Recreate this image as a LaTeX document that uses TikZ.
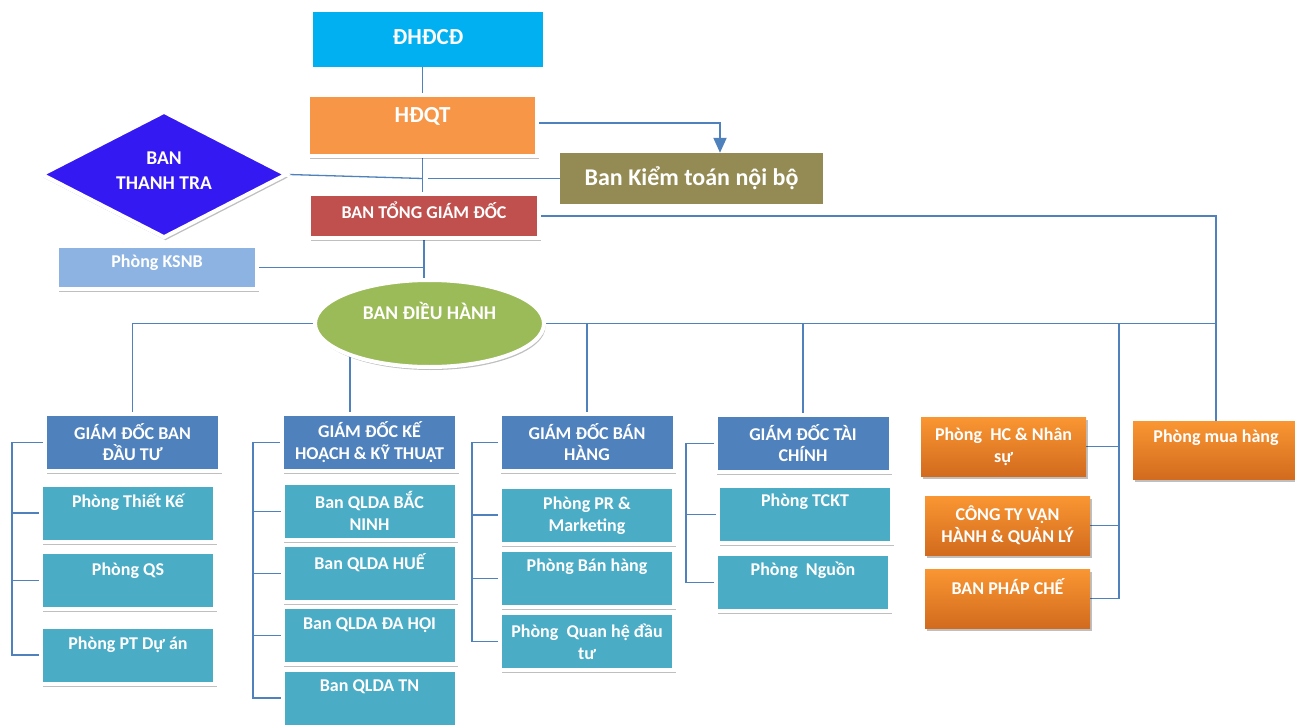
\documentclass[tikz,border=0pt]{standalone}
\usepackage{fontspec}
\setmainfont{Carlito}
\usetikzlibrary{shapes.geometric,shadows,backgrounds,arrows.meta,calc}
\definecolor{cCyan}{HTML}{00B0F0}
\definecolor{cHD}{HTML}{F79646}
\definecolor{cKT}{HTML}{948A54}
\definecolor{cTG}{HTML}{C0504D}
\definecolor{cTT}{HTML}{3519F2}
\definecolor{cKS}{HTML}{8DB3E2}
\definecolor{cEL}{HTML}{9BBB59}
\definecolor{cGD}{HTML}{4F81BD}
\definecolor{cP}{HTML}{4BACC6}
\definecolor{cOrT}{HTML}{FA9632}
\definecolor{cOrB}{HTML}{D26B1E}
\definecolor{cLine}{HTML}{4F81BD}
\begin{document}
\begin{tikzpicture}[x=1pt,y=-1pt,
  ln/.style={draw=cLine, line width=1.3pt},
  shd/.style={drop shadow={shadow xshift=1.5pt, shadow yshift=-3pt, fill=black, opacity=0.25}},
  bx/.style={rectangle, draw=white, line width=4pt, inner sep=0pt, shd},
  gd/.style={bx, fill=cGD, minimum width=175pt, minimum height=57pt},
  pb/.style={bx, fill=cP, minimum width=174pt, minimum height=57pt},
  ob/.style={rectangle, inner sep=0pt, top color=cOrT, bottom color=cOrB, minimum width=165pt, minimum height=59pt, shd},
  txt/.style={text=white, font=\bfseries\fontsize{18}{21.7}\selectfont, align=center, inner sep=0pt},
  mid/.style={txt, font=\bfseries\fontsize{19.5}{24}\selectfont},
  big/.style={txt, font=\bfseries\fontsize{23}{27}\selectfont}]
\begin{scope}[on background layer]
\fill[white] (0,0) rectangle (1295,725);
\end{scope}
\useasboundingbox (0,0) rectangle (1295,725);

% top part
\node[rectangle, fill=cCyan, minimum width=230pt, minimum height=55pt, inner sep=0pt] (dhcd) at (428,39.5) {};
\node[big] (tdhcd) at (428,37) {ĐHĐCĐ};
\node[bx, fill=cHD, minimum width=229pt, minimum height=61pt] (hdqt) at (422.5,125.5) {};
\node[big] (thdqt) at (422.5,116) {HĐQT};
\node[rectangle, fill=cKT, minimum width=263pt, minimum height=51pt, inner sep=0pt] (kt) at (691.5,178.5) {};
\node[big, font=\bfseries\fontsize{24}{28}\selectfont] (tkt) at (691.5,178) {Ban Kiểm toán nội bộ};
\node[bx, fill=cTG, minimum width=230pt, minimum height=44pt] (tgd) at (424,216) {};
\node[txt] (ttgd) at (424,210) {BAN TỔNG GIÁM ĐỐC};
\node[diamond, draw=white, line width=4pt, fill=cTT, minimum width=246pt, minimum height=127pt, inner sep=0pt, shd] (tt) at (164,174.5) {};
\node[mid] (ttt) at (164,171) {BAN\\[1pt]THANH TRA};
\node[bx, fill=cKS, minimum width=200pt, minimum height=43pt] (ks) at (157,267.5) {};
\node[txt] (tks) at (157,263) {Phòng KSNB};
\node[ellipse, draw=white, line width=4pt, fill=cEL, minimum width=229pt, minimum height=87pt, inner sep=0pt, shd] (el) at (429.5,323.5) {};
\node[mid] (tel) at (429.5,311) {BAN ĐIỀU HÀNH};

% column 1
\node[gd] (gd1) at (132.5,442.5) {};
\node[txt] (tgd1) at (132.5,442) {GIÁM ĐỐC BAN\\ĐẦU TƯ};
\node[pb] (p11) at (128,513) {};
\node[txt] (tp11) at (128,502) {Phòng Thiết Kế};
\node[pb] (p12) at (128,580.5) {};
\node[txt] (tp12) at (128,571) {Phòng QS};
\node[pb] (p13) at (128,655) {};
\node[txt] (tp13) at (128,645) {Phòng PT Dự án};

% column 2
\node[gd] (gd2) at (369.5,442.5) {};
\node[txt] (tgd2) at (369.5,442) {GIÁM ĐỐC KẾ\\HOẠCH \& KỸ THUẬT};
\node[pb] (p21) at (369.5,511.5) {};
\node[txt] (tp21) at (369.5,511) {Ban QLDA BẮC\\NINH};
\node[pb] (p22) at (369.5,573.5) {};
\node[txt] (tp22) at (369.5,563) {Ban QLDA HUẾ};
\node[pb] (p23) at (369.5,635.5) {};
\node[txt] (tp23) at (369.5,625) {Ban QLDA ĐA HỘI};
\node[pb] (p24) at (369.5,698) {};
\node[txt] (tp24) at (369.5,687) {Ban QLDA TN};

% column 3
\node[gd] (gd3) at (587,442.5) {};
\node[txt] (tgd3) at (587,442) {GIÁM ĐỐC BÁN\\HÀNG};
\node[pb] (p31) at (587,515) {};
\node[txt] (tp31) at (587,516) {Phòng PR \&\\Marketing};
\node[pb] (p32) at (587,578.5) {};
\node[txt] (tp32) at (587,567) {Phòng Bán hàng};
\node[pb] (p33) at (587,641.5) {};
\node[txt] (tp33) at (587,642) {Phòng~ Quan hệ đầu\\tư};

% column 4
\node[gd] (gd4) at (803,443.5) {};
\node[txt] (tgd4) at (803,443) {GIÁM ĐỐC TÀI\\CHÍNH};
\node[pb] (p41) at (805,514.5) {};
\node[txt] (tp41) at (805,502) {Phòng TCKT};
\node[pb] (p42) at (803,582.5) {};
\node[txt] (tp42) at (803,570) {Phòng~ Nguồn};

% orange boxes
\node[ob] (o1) at (1003.5,446.5) {};
\node[txt] (to1) at (1003.5,446.5) {Phòng~ HC \& Nhân\\sự};
\node[ob] (o2) at (1007.5,525.5) {};
\node[txt] (to2) at (1007.5,525.5) {CÔNG TY VẬN\\HÀNH \& QUẢN LÝ};
\node[ob] (o3) at (1007.5,598.5) {};
\node[txt] (to3) at (1007.5,587) {BAN PHÁP CHẾ};
\node[ob, minimum width=166pt, minimum height=58pt] (o4) at (1216,450) {};
\node[txt] (to4) at (1216,438) {Phòng mua hàng};

% connectors
\begin{scope}[on background layer]
\draw[ln] (hdqt.north) -- (hdqt.north |- dhcd.south);
\draw[ln, line width=2pt, -{Triangle[width=13pt,length=15pt]}] ([yshift=2.5pt]hdqt.east) -| ([xshift=28.5pt]kt.north);
\coordinate (j1) at (hdqt.south |- kt.west);
\draw[ln] (tt.east) -- (j1);
\draw[ln] (kt.west) -- ([xshift=5pt]j1);
\draw[ln] (hdqt.south) -- (hdqt.south |- tgd.north);
\draw[ln] (tgd.east) -| (o4.north);
\draw[ln] (tgd.south) -- (tgd.south |- el.north);
\draw[ln] (ks.east) -- (ks.east -| tgd.south);
\draw[ln] (el.west) -| (gd1.north);
\draw[ln] ([xshift=-19.5pt]gd2.north) -- ([xshift=-19.5pt]gd2.north |- el.center);
\draw[ln] (el.east) -- (el.east -| o4.north);
\draw[ln] (gd3.north) -- (gd3.north |- el.east);
\draw[ln] (gd4.north) -- (gd4.north |- el.east);
\coordinate (sb) at (1119,323.5);
\draw[ln] (sb) |- (o3.east);
\draw[ln] (o1.east) -- (o1.east -| sb);
\draw[ln] (o2.east) -- (o2.east -| sb);
% brackets
\coordinate (b1) at (12,0);
\draw[ln] (gd1.west) -- (gd1.west -| b1) -- (p13.west -| b1) -- (p13.west);
\foreach \n in {p11,p12} \draw[ln] (\n.west) -- (\n.west -| b1);
\coordinate (b2) at (253,0);
\draw[ln] (gd2.west) -- (gd2.west -| b2) -- (p24.west -| b2) -- (p24.west);
\foreach \n in {p21,p22,p23} \draw[ln] (\n.west) -- (\n.west -| b2);
\coordinate (b3) at (472,0);
\draw[ln] (gd3.west) -- (gd3.west -| b3) -- (p33.west -| b3) -- (p33.west);
\foreach \n in {p31,p32} \draw[ln] (\n.west) -- (\n.west -| b3);
\coordinate (b4) at (686,0);
\draw[ln] (gd4.west) -- (gd4.west -| b4) -- (p42.west -| b4) -- (p42.west);
\draw[ln] (p41.west) -- (p41.west -| b4);
\end{scope}
\end{tikzpicture}
\end{document}
